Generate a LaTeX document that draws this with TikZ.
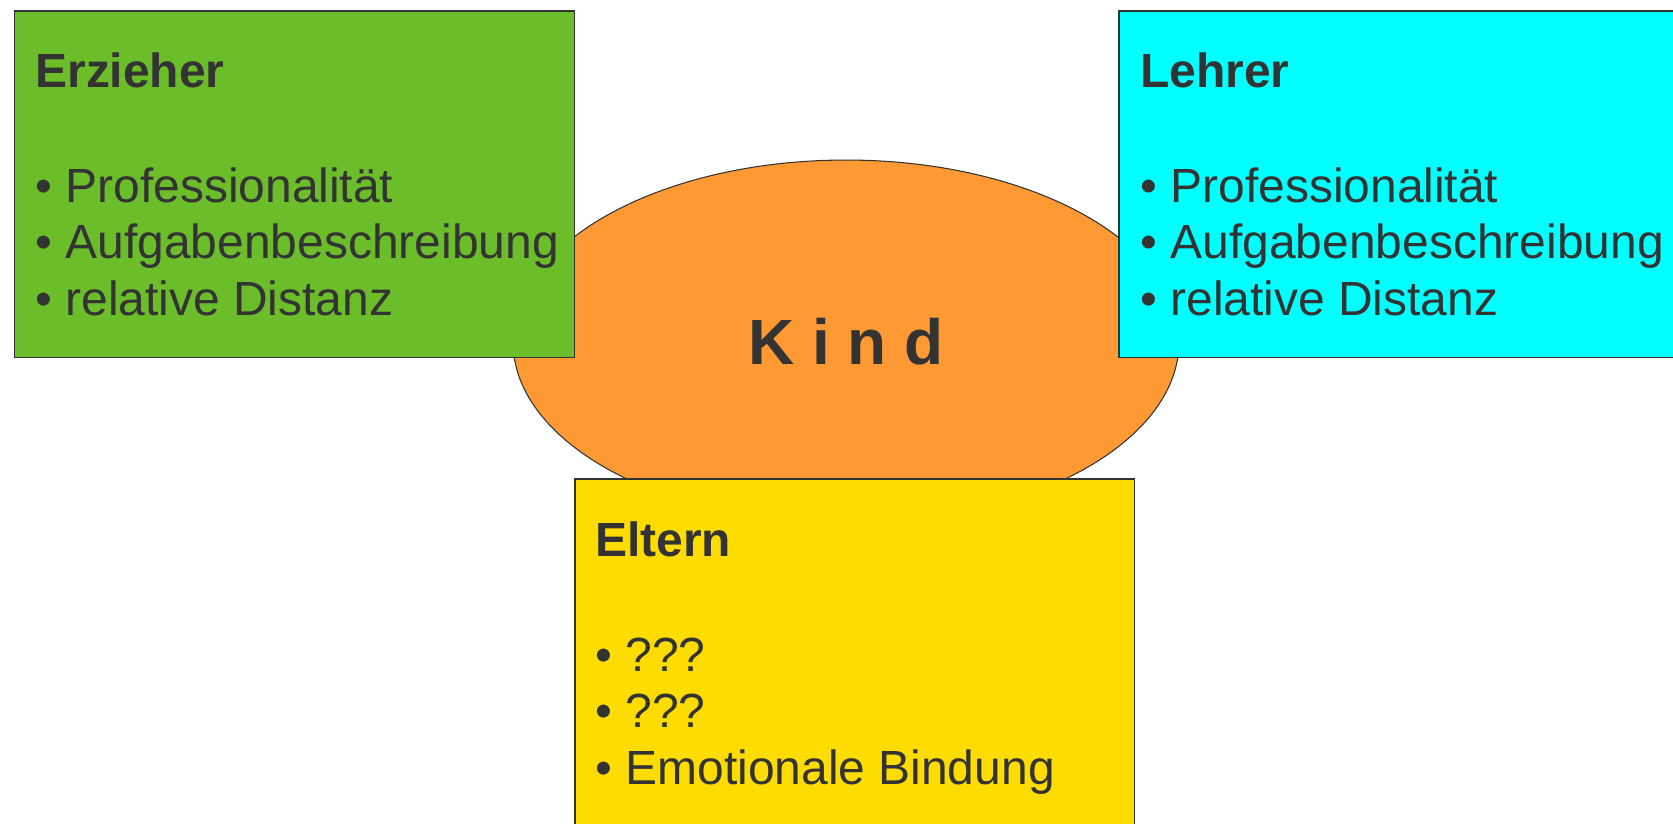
\documentclass[tikz,border=0pt]{standalone}
\usepackage{fontspec}
\setmainfont{Liberation Sans}
\usetikzlibrary{shapes.geometric}
\definecolor{textgray}{HTML}{333333}
\definecolor{erziehergreen}{HTML}{6BBE2A}
\definecolor{lehrercyan}{HTML}{00FFFF}
\definecolor{elternyellow}{HTML}{FFDC00}
\definecolor{kindorange}{HTML}{FF9933}
\tikzset{
  rolebox/.style={draw=textgray, line width=0.85pt, minimum width=11.2cm, minimum height=6.94cm, inner sep=0pt, anchor=north west},
  roletext/.style={anchor=north west, inner sep=0pt, align=left, text=textgray, font=\fontsize{27.3}{32.4}\selectfont},
}
\begin{document}
\begin{tikzpicture}[x=0.02cm,y=-0.02cm]
\useasboundingbox (0,0) rectangle (1673,823);
\clip (0,0) rectangle (1673,823);
% das Kind in der Mitte
\node[ellipse, draw=textgray, line width=0.6pt, fill=kindorange, minimum width=13.32cm, minimum height=7.28cm, inner sep=0pt, text=textgray, font=\fontsize{36.4}{40}\selectfont\bfseries] (kind) at (846,342) {K i n d};
% die drei Bezugspersonen
\node[rolebox, fill=erziehergreen] (erzieher) at (14,10) {};
\node[rolebox, fill=lehrercyan] (lehrer) at (1118,10) {};
\node[rolebox, fill=elternyellow] (eltern) at (574,478) {};
\node[roletext] (erziehertext) at (35,52) {\textbf{Erzieher}\\[33pt]• Professionalität\\• Aufgabenbeschreibung\\• relative Distanz};
\node[roletext] (lehrertext) at (1140,52) {\textbf{Lehrer}\\[33pt]• Professionalität\\• Aufgabenbeschreibung\\• relative Distanz};
\node[roletext] (elterntext) at (595,521) {\textbf{Eltern}\\[33pt]• ???\\• ???\\• Emotionale Bindung};
\end{tikzpicture}
\end{document}
